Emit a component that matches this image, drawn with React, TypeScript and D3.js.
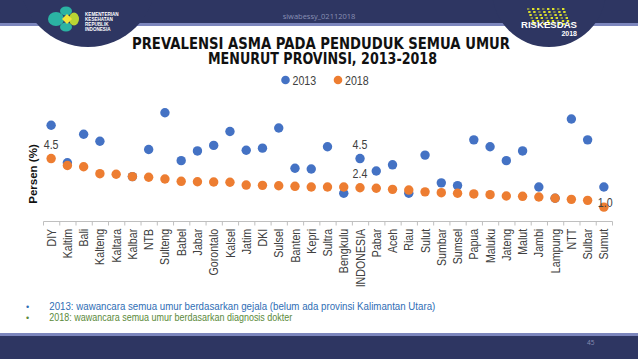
import { useEffect, useRef } from 'react'
import * as d3 from 'd3'

const PROVINSI = ['DIY','Kaltim','Bali','Kalteng','Kaltara','Kalbar','NTB','Sulteng','Babel','Jabar','Gorontalo','Kalsel','Jatim','DKI','Sulsel','Banten','Kepri','Sultra','Bengkulu','INDONESIA','Pabar','Aceh','Riau','Sulut','Sumbar','Sumsel','Papua','Maluku','Jateng','Malut','Jambi','Lampung','NTT','Sulbar','Sumut']
// 2013 had no Kalimantan Utara
const VAL_2013 = [6.9,4.2,6.25,5.75,null,3.2,5.15,7.8,4.35,5.05,5.45,6.45,5.1,5.25,6.7,3.8,3.75,5.35,2.0,4.5,3.6,4.05,2.0,4.75,2.75,2.55,5.85,5.35,4.35,5.05,2.45,1.64,7.35,5.85,2.45]
const VAL_2018 = [4.5,4.0,3.91,3.41,3.37,3.2,3.15,3.03,2.86,2.83,2.81,2.79,2.59,2.57,2.54,2.5,2.45,2.45,2.45,2.4,2.36,2.28,2.23,2.1,2.04,2.0,1.95,1.9,1.8,1.78,1.73,1.64,1.56,1.49,1.0]
const SERIES = ['2013','2018']
const COLORS = ['#4472c4','#ed7d31']
const LABELLED = [
  { prov: 'DIY', series: 1, pos: 'above' },
  { prov: 'INDONESIA', series: 0, pos: 'above' },
  { prov: 'INDONESIA', series: 1, pos: 'above' },
  { prov: 'Sumut', series: 1, pos: 'right' },
]
const NOTES = [
  { text: '2013: wawancara semua umur berdasarkan gejala (belum ada provinsi Kalimantan Utara)', color: '#2f6eb5', len: 386 },
  { text: '2018: wawancara semua umur berdasarkan diagnosis dokter', color: '#5b8a3a', len: 243 },
]

const NAVY = '#2e3662'
const LILAC = '#7c86bd'
const FONT = 'Liberation Sans, Arial, sans-serif'

function Narrow({ x, y, children, size = 13, anchor = 'start', fill = '#404040', sx = 0.82 }: any) {
  return (
    <text transform={`translate(${x},${y}) scale(${sx},1)`} fontSize={size} textAnchor={anchor} fill={fill} fontFamily={FONT}>{children}</text>
  )
}

export default function App() {
  const axisRef = useRef<SVGGElement>(null)
  const x = d3.scaleBand<string>().domain(PROVINSI).range([43, 612]).padding(0)
  const y = d3.scaleLinear().domain([0, 8]).range([221, 110])
  const cx = (p: string) => (x(p) as number) + x.bandwidth() / 2
  const series = [VAL_2013, VAL_2018]

  useEffect(() => {
    if (!axisRef.current) return
    const g = d3.select(axisRef.current)
    g.selectAll('*').remove()
    g.call(d3.axisBottom(x).tickSize(0))
    g.select('.domain').attr('stroke', '#bfbfbf')
    g.selectAll('.tick text')
      .attr('x', -9.5).attr('y', 0).attr('dy', '0.35em')
      .attr('text-anchor', 'end')
      .attr('transform', 'rotate(-90) scale(0.82,1)')
      .attr('font-size', 13).attr('font-family', FONT).attr('fill', '#404040')
    const bounds = [...PROVINSI.map(p => x(p) as number), x.range()[1]]
    g.selectAll('line.b').data(bounds).join('line').attr('class', 'b')
      .attr('x1', d => d + 0.5).attr('x2', d => d + 0.5).attr('y1', 0.5).attr('y2', 4.5)
      .attr('stroke', '#bfbfbf')
  }, [])

  return (
    <svg width={638} height={359} style={{ position: 'absolute', left: 0, top: 0, background: '#fff' }}>
      {/* header */}
      <rect x={0} y={0} width={638} height={23} fill={NAVY} />
      <rect x={0} y={23} width={638} height={3} fill={LILAC} />
      <circle cx={88} cy={-21} r={68} fill={NAVY} />
      <circle cx={549} cy={-10} r={57} fill={NAVY} />
      <text x={319} y={19} fontSize={7.5} fill="#8990b4" textAnchor="middle" fontFamily="Open Sans, sans-serif">siwabessy_02112018</text>
      <g>
        <ellipse cx={56} cy={19} rx={8} ry={7} fill="#2bb3a3" />
        <ellipse cx={66} cy={11} rx={6} ry={4.5} fill="#2bb3a3" />
        <ellipse cx={66} cy={27} rx={6} ry={4.5} fill="#2bb3a3" />
        <ellipse cx={74} cy={19} rx={5} ry={6.5} fill="#b9d433" />
        <path d="M62,19 L67,14 L72,19 L67,24 Z" fill="#f1e43a" />
      </g>
      {['KEMENTERIAN','KESEHATAN','REPUBLIK','INDONESIA'].map((t, i) => (
        <text key={t} x={85} y={16 + i * 5} fontSize={4.6} fontWeight={700} fill="#fff" fontFamily={FONT}>{t}</text>
      ))}
      <g fill="#d9df2c">
        {d3.range(6).flatMap(r => d3.range(8).map(c => (
          <rect key={`${r}-${c}`} x={527 + c * 5 + r * 1.2} y={8 + r * 3} width={2.4} height={2} opacity={(c + r) % 3 === 0 ? 0.5 : 1} />
        )))}
      </g>
      <text x={521} y={28} fontSize={9} fontWeight={700} fill="#fff" fontFamily={FONT} textLength={56} lengthAdjust="spacingAndGlyphs">RISKESDAS</text>
      <text x={577} y={36} fontSize={7} fontWeight={700} fill="#fff" textAnchor="end" fontFamily={FONT}>2018</text>

      {/* title */}
      <text x={132} y={48.5} fontSize={16} fontWeight={900} fill="#111" fontFamily="DejaVu Sans, sans-serif" textLength={378} lengthAdjust="spacingAndGlyphs">PREVALENSI ASMA PADA PENDUDUK SEMUA UMUR</text>
      <text x={208} y={64} fontSize={16} fontWeight={900} fill="#111" fontFamily="DejaVu Sans, sans-serif" textLength={229} lengthAdjust="spacingAndGlyphs">MENURUT PROVINSI, 2013-2018</text>

      {/* legend */}
      {SERIES.map((s, i) => (
        <g key={s}>
          <circle cx={285.5 + i * 52.5} cy={80} r={4.3} fill={COLORS[i]} />
          <Narrow x={292.5 + i * 52.5} y={84.5}>{s}</Narrow>
        </g>
      ))}

      {/* y title */}
      <text transform="translate(37,174) rotate(-90)" fontSize={11.5} fontWeight={700} textAnchor="middle" fill="#111" fontFamily={FONT}>Persen (%)</text>

      <g ref={axisRef} transform="translate(0,221)" />

      {series.map((vals, si) => (
        <g key={si} fill={COLORS[si]}>
          {PROVINSI.map((p, i) => vals[i] == null ? null : (
            <circle key={p} cx={cx(p)} cy={y(vals[i] as number)} r={4.7} />
          ))}
        </g>
      ))}

      {LABELLED.map(l => {
        const i = PROVINSI.indexOf(l.prov)
        const v = series[l.series][i] as number
        const px = cx(l.prov)
        const py = y(v)
        return l.pos === 'above'
          ? <Narrow key={l.prov + l.series} x={px} y={py - 9.5} anchor="middle">{d3.format('.1f')(v)}</Narrow>
          : <Narrow key={l.prov + l.series} x={px - 6} y={py} anchor="start">{d3.format('.1f')(v)}</Narrow>
      })}

      {/* notes */}
      {NOTES.map((n, i) => (
        <g key={i} fontFamily={FONT} fill={n.color}>
          <text x={26} y={310 + i * 11} fontSize={9}>•</text>
          <text x={49.3} y={310 + i * 11} fontSize={10} textLength={n.len} lengthAdjust="spacingAndGlyphs">{n.text}</text>
        </g>
      ))}

      {/* footer */}
      <rect x={0} y={333} width={638} height={3} fill={LILAC} />
      <rect x={0} y={336} width={638} height={23} fill={NAVY} />
      <text x={587} y={345} fontSize={6.5} fill="#8990b4" fontFamily="Open Sans, sans-serif">45</text>
    </svg>
  )
}
